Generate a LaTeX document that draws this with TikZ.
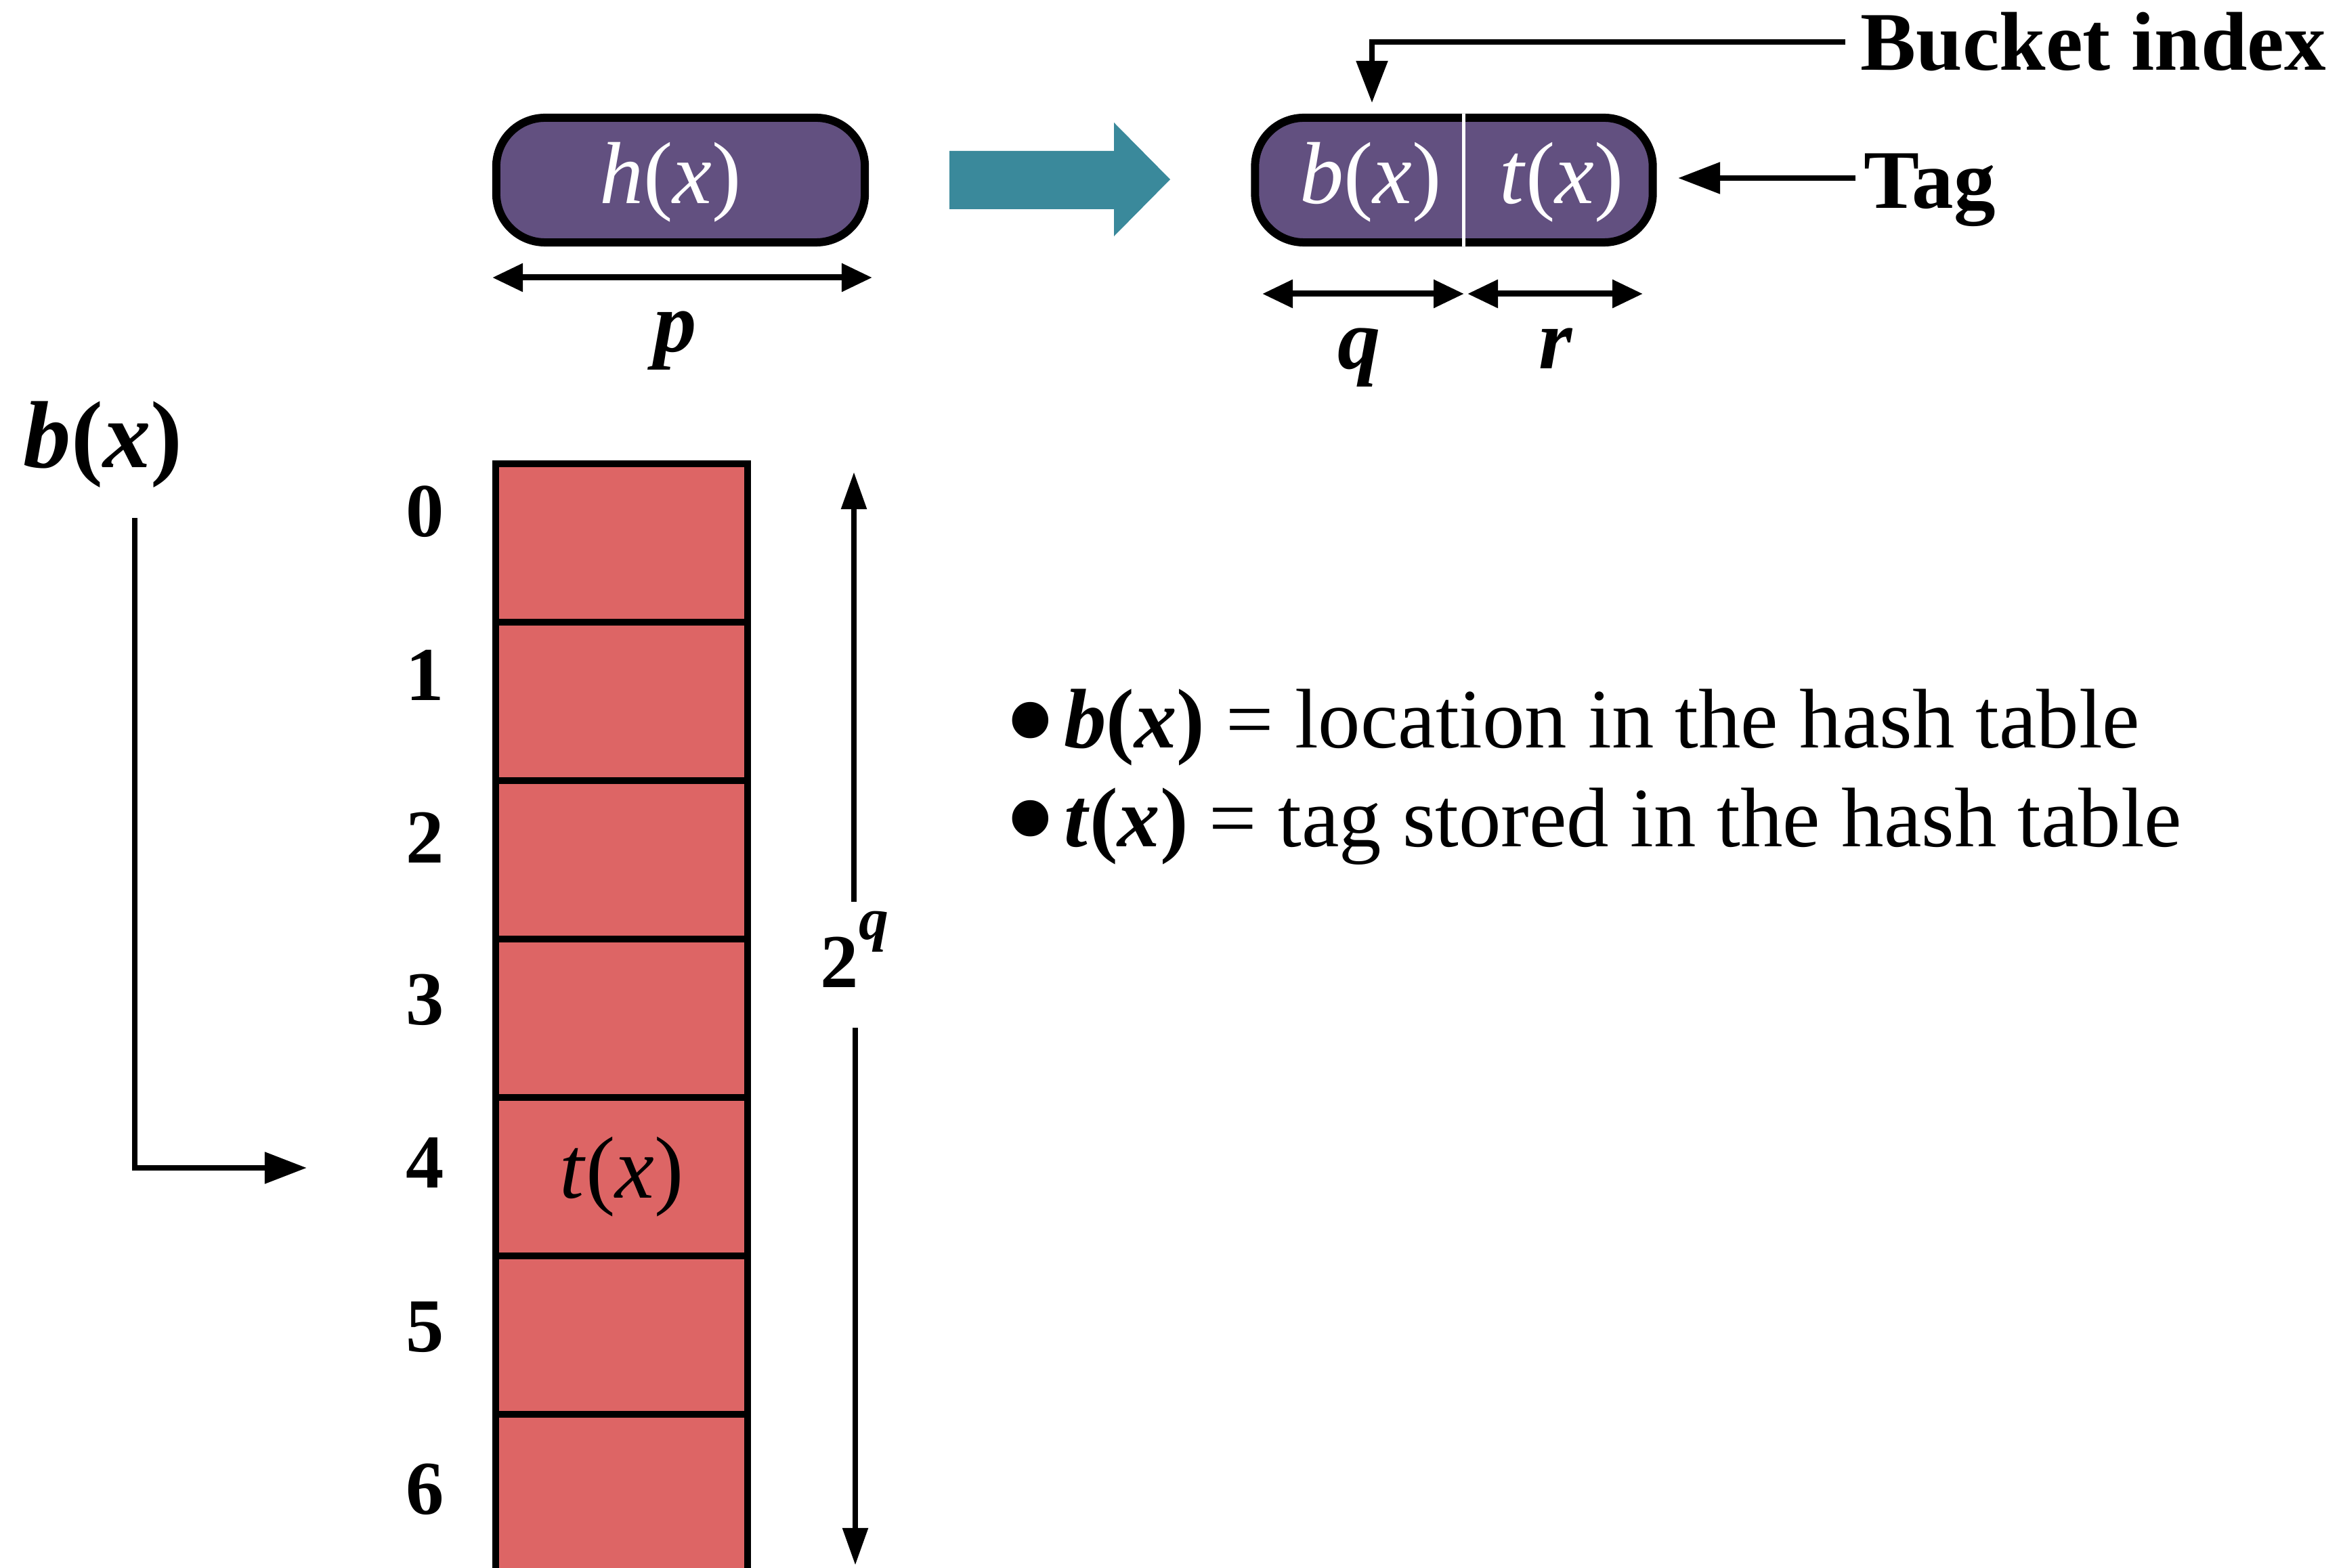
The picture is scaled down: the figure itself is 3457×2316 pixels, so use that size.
\documentclass[tikz,border=0pt]{standalone}
\usepackage{fontspec}
\usepackage{graphicx}
\setmainfont{Liberation Serif}
\usetikzlibrary{arrows.meta}
\definecolor{boxpurple}{RGB}{98,80,128}
\definecolor{arrteal}{RGB}{58,137,155}
\definecolor{cellred}{RGB}{221,101,101}
\newcommand{\bigbul}{\smash{\raisebox{-0.27em}{\scalebox{1.8}{\textbullet}}}\kern0.08em}
\begin{document}
\begin{tikzpicture}[x=0.01cm,y=-0.01cm,
  pill/.style={draw=black, line width=0.12cm, fill=boxpurple, rounded corners=0.72cm, minimum height=1.84cm, inner sep=0pt},
  wlab/.style={text=white, inner sep=0pt, font=\fontsize{37}{40}\selectfont},
  blab/.style={inner sep=0pt, font=\fontsize{35}{40}\selectfont\bfseries},
  ilab/.style={inner sep=0pt, font=\fontsize{36}{40}\selectfont\bfseries\itshape},
  numlab/.style={inner sep=0pt, font=\fontsize{32}{36}\selectfont\bfseries},
  cell/.style={draw=black, line width=0.1cm, fill=cellred, minimum width=3.72cm, minimum height=2.34cm, inner sep=0pt, font=\fontsize{36}{40}\selectfont},
  conn/.style={line width=0.085cm, -{Triangle[length=0.62cm,width=0.45cm]}},
  connv/.style={line width=0.085cm, -{Triangle[length=0.55cm,width=0.36cm]}},
  dbl/.style={line width=0.09cm, {Triangle[length=0.45cm,width=0.4cm]}-{Triangle[length=0.45cm,width=0.4cm]}},
  bultext/.style={anchor=base west, inner sep=0pt, font=\fontsize{35.5}{40}\selectfont}
]
\clip (0,0) rectangle (3457,2316);

% top: h(x) box
\node[pill, minimum width=5.44cm] (hbox) at (1005,266) {};
\node[wlab] (hx) at (990,269) {\textit{h}(\textit{x})};
\coordinate (pL) at (727,410);
\coordinate (pR) at (1288,410);
\draw[dbl] (pL) -- (pR);
\node[ilab, anchor=base] (plab) at (997,520) {p};

% teal arrow
\fill[arrteal] (1402,223) -- (1645,223) -- (1645,181) -- (1728,265) -- (1645,349) -- (1645,309) -- (1402,309) -- cycle;

% b(x) | t(x) box
\node[pill, minimum width=5.87cm] (bt) at (2147,266) {};
\draw[white, line width=0.05cm] ([xshift=0.14cm]bt.north) -- ([xshift=0.14cm]bt.south);
\node[wlab] (bxin) at (2024,269) {\textit{b}(\textit{x})};
\node[wlab] (txin) at (2306,269) {\textit{t}(\textit{x})};
\coordinate (qL) at (1864,434);
\coordinate (qR) at (2162,434);
\coordinate (rL) at (2167,434);
\coordinate (rR) at (2426,434);
\draw[dbl] (qL) -- (qR);
\draw[dbl] (rL) -- (rR);
\node[ilab, anchor=base] (qlab) at (2007,545) {q};
\node[ilab, anchor=base] (rlab) at (2297,545) {r};

% labels at right
\node[blab, anchor=west] (bucket) at (2747,62) {Bucket index};
\coordinate (bkT) at (2026,152);
\draw[conn] ([xshift=-0.22cm]bucket.west) -| (bkT);
\node[blab, anchor=base west] (tag) at (2752,308) {Tag};
\coordinate (tagS) at (2740,263);
\coordinate (tagT) at (2478,263);
\draw[conn] (tagS) -- (tagT);

% left b(x) pointer
\node[inner sep=0pt, font=\fontsize{40}{44}\selectfont] (bxl) at (152,657) {\textbf{\textit{b}(\textit{x})}};
\coordinate (bxA) at (199,765);
\coordinate (bxB) at (453,1725);
\draw[conn] (bxA) |- (bxB);

% table
\foreach \k in {0,...,6} {
  \node[cell] (r\k) at (918,802+234*\k) {};
}
\node[inner sep=0pt, font=\fontsize{37}{40}\selectfont] (tx) at (r4) {\textit{t}(\textit{x})};
\node[numlab] (n0) at (628,756) {0};
\node[numlab] (n1) at (628,997) {1};
\node[numlab] (n2) at (628,1237) {2};
\node[numlab] (n3) at (628,1477) {3};
\node[numlab] (n4) at (628,1717) {4};
\node[numlab] (n5) at (628,1960) {5};
\node[numlab] (n6) at (628,2200) {6};

% 2^q arrows
\node[numlab, anchor=base] (two) at (1262,1458) {2\raisebox{20pt}{\fontsize{25}{26}\selectfont\textit{q}}};
\coordinate (uS) at (1261,1332);
\coordinate (uT) at (1261,697);
\coordinate (dS) at (1263,1518);
\coordinate (dT) at (1263,2312);
\draw[connv] (uS) -- (uT);
\draw[connv] (dS) -- (dT);

% bullets
\node[bultext] (bl1) at (1482,1105) {\bigbul\textbf{\textit{b}(\textit{x})} = location in the hash table};
\node[bultext] (bl2) at (1482,1250) {\bigbul\textbf{\textit{t}(\textit{x})} = tag stored in the hash table};
\end{tikzpicture}
\end{document}
